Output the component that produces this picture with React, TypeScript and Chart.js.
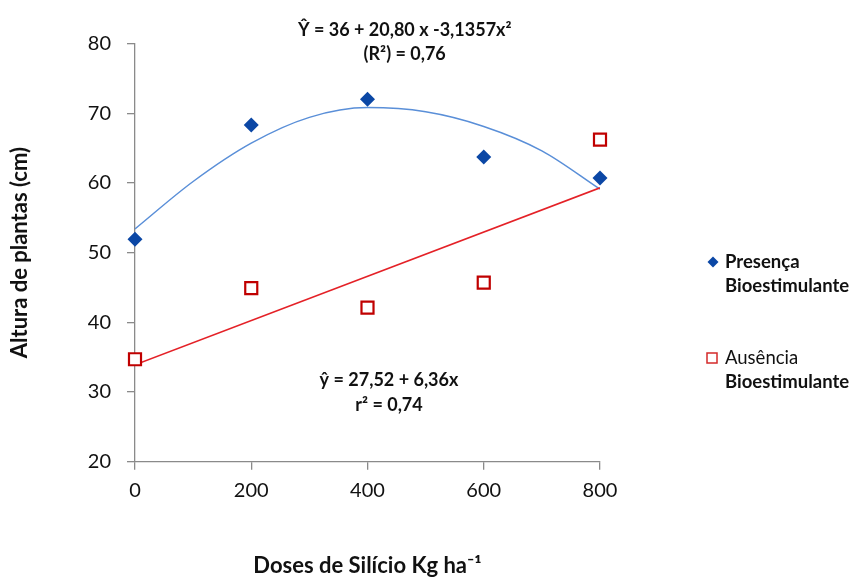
import React, { useEffect, useRef } from 'react';
import { Chart, registerables } from 'chart.js';

Chart.register(...registerables);

// ---- data ----
const doses = [0, 200, 400, 600, 800];
const presenca = [51.9, 68.3, 72.0, 63.7, 60.7];
const ausencia = [34.7, 44.9, 42.1, 45.7, 66.2];

// trend curves as drawn in the reference
const trendDoses = [0, 100, 200, 300, 400, 500, 600, 700, 800];
const presencaTrend = [53.4, 60.2, 65.7, 69.4, 70.8, 70.2, 68.1, 64.6, 59.1];
const linearDoses = [0, 800];
const ausenciaTrend = [33.9, 59.3];

const xTickValues = [0, 200, 400, 600, 800];
const yTickValues = [20, 30, 40, 50, 60, 70, 80];

const presencaLabel = ['Presença', 'Bioestimulante'];
const ausenciaLabel = ['Ausência', 'Bioestimulante'];
const eqPresenca = ['Ŷ = 36 + 20,80 x -3,1357x²', '(R²) = 0,76'];
const eqAusencia = ['ŷ = 27,52 + 6,36x', 'r² = 0,74'];
const xTitle = 'Doses de Silício Kg ha⁻¹';
const yTitle = 'Altura de plantas (cm)';

const FONT = 'Lato, "Open Sans", sans-serif';
const BLUE = '#0b47a5';
const RED = '#c00000';
const CURVE_BLUE = '#5a8fd8';
const LINE_RED = '#e42127';
const AXIS = '#8a8a8a';
const TEXT = '#111111';

const pts = (xs: number[], ys: number[]) => xs.map((x, i) => ({ x, y: ys[i] }));

const extrasPlugin = {
  id: 'extras',
  afterDraw(chart: any) {
    const { ctx } = chart;
    const xs = chart.scales.x;
    const ys = chart.scales.y;
    ctx.save();
    ctx.fillStyle = TEXT;
    ctx.textAlign = 'center';
    ctx.textBaseline = 'middle';
    ctx.font = `bold 18px ${FONT}`;
    // upper equation
    const ex1 = xs.getPixelForValue(464);
    ctx.fillText(eqPresenca[0], ex1, 30);
    ctx.fillText(eqPresenca[1], ex1, 54);
    // lower equation
    const ex2 = xs.getPixelForValue(437);
    ctx.fillText(eqAusencia[0], ex2, ys.getPixelForValue(31.7));
    ctx.fillText(eqAusencia[1], ex2, ys.getPixelForValue(28.1));

    // legend
    const lx = 713;
    ctx.textAlign = 'left';
    ctx.fillStyle = BLUE;
    ctx.beginPath();
    ctx.moveTo(lx, 262 - 5.5);
    ctx.lineTo(lx + 5.5, 262);
    ctx.lineTo(lx, 262 + 5.5);
    ctx.lineTo(lx - 5.5, 262);
    ctx.closePath();
    ctx.fill();
    ctx.fillStyle = TEXT;
    ctx.font = `bold 18.5px ${FONT}`;
    ctx.fillText(presencaLabel[0], 725, 262);
    ctx.fillText(presencaLabel[1], 725, 286);
    ctx.strokeStyle = '#d42a2a';
    ctx.lineWidth = 1.5;
    ctx.strokeRect(lx - 6, 358 - 5, 10, 10);
    ctx.fillStyle = TEXT;
    ctx.font = `18.5px ${FONT}`;
    ctx.fillText(ausenciaLabel[0], 725, 358);
    ctx.font = `bold 18.5px ${FONT}`;
    ctx.fillText(ausenciaLabel[1], 725, 382);
    ctx.restore();
  },
};

export default function App() {
  const ref = useRef<HTMLCanvasElement | null>(null);

  useEffect(() => {
    if (!ref.current) return;
    const chart = new Chart(ref.current, {
      type: 'scatter',
      data: {
        datasets: [
          {
            label: presencaLabel.join(' '),
            data: pts(doses, presenca),
            pointStyle: 'rectRot',
            pointRadius: 7.5,
            backgroundColor: BLUE,
            borderColor: BLUE,
            borderWidth: 0,
            clip: false,
            order: 1,
          },
          {
            label: ausenciaLabel.join(' '),
            data: pts(doses, ausencia),
            pointStyle: 'rect',
            pointRadius: 8.5,
            backgroundColor: '#ffffff',
            borderColor: RED,
            borderWidth: 2.2,
            clip: false,
            order: 0,
          },
          {
            label: 'Tendência Presença',
            data: pts(trendDoses, presencaTrend),
            showLine: true,
            pointRadius: 0,
            borderColor: CURVE_BLUE,
            borderWidth: 1.5,
            cubicInterpolationMode: 'monotone',
            fill: false,
            order: 3,
          },
          {
            label: 'Tendência Ausência',
            data: pts(linearDoses, ausenciaTrend),
            showLine: true,
            pointRadius: 0,
            borderColor: LINE_RED,
            borderWidth: 1.6,
            fill: false,
            order: 2,
          },
        ],
      } as any,
      options: {
        animation: false,
        responsive: false,
        maintainAspectRatio: false,
        layout: { padding: { top: 43.5, right: 255, left: 0, bottom: 0 } },
        plugins: {
          legend: { display: false },
          tooltip: { enabled: false },
        },
        scales: {
          x: {
            type: 'linear',
            min: 0,
            max: 800,
            afterFit: (s: any) => { s.height = 117.3; },
            afterBuildTicks: (s: any) => { s.ticks = xTickValues.map((v) => ({ value: v })); },
            ticks: {
              color: TEXT,
              font: { family: FONT, size: 20 },
              padding: 9,
              maxRotation: 0,
            },
            grid: { display: true, drawOnChartArea: false, color: AXIS, tickLength: 8, lineWidth: 1.3 },
            border: { display: true, color: AXIS, width: 1.3 },
            title: {
              display: true,
              text: xTitle,
              color: TEXT,
              font: { family: FONT, size: 22, weight: 'bold' },
              padding: { top: 0, bottom: 0 },
            },
          },
          y: {
            type: 'linear',
            min: 20,
            max: 80,
            afterFit: (s: any) => { s.width = 135; },
            afterBuildTicks: (s: any) => { s.ticks = yTickValues.map((v) => ({ value: v })); },
            ticks: {
              color: TEXT,
              font: { family: FONT, size: 20 },
              padding: 16,
            },
            grid: { display: true, drawOnChartArea: false, color: AXIS, tickLength: 8, lineWidth: 1.3 },
            border: { display: true, color: AXIS, width: 1.3 },
            title: {
              display: true,
              text: yTitle,
              color: TEXT,
              font: { family: FONT, size: 22, weight: 'bold' },
              padding: { top: 7, bottom: 0 },
            },
          },
        },
      } as any,
      plugins: [extrasPlugin],
    });
    return () => chart.destroy();
  }, []);

  return (
    <div style={{ position: 'fixed', left: 0, top: 0, width: 855, height: 579, background: '#ffffff' }}>
      <canvas ref={ref} width={855} height={579} style={{ width: 855, height: 579, display: 'block' }} />
    </div>
  );
}
